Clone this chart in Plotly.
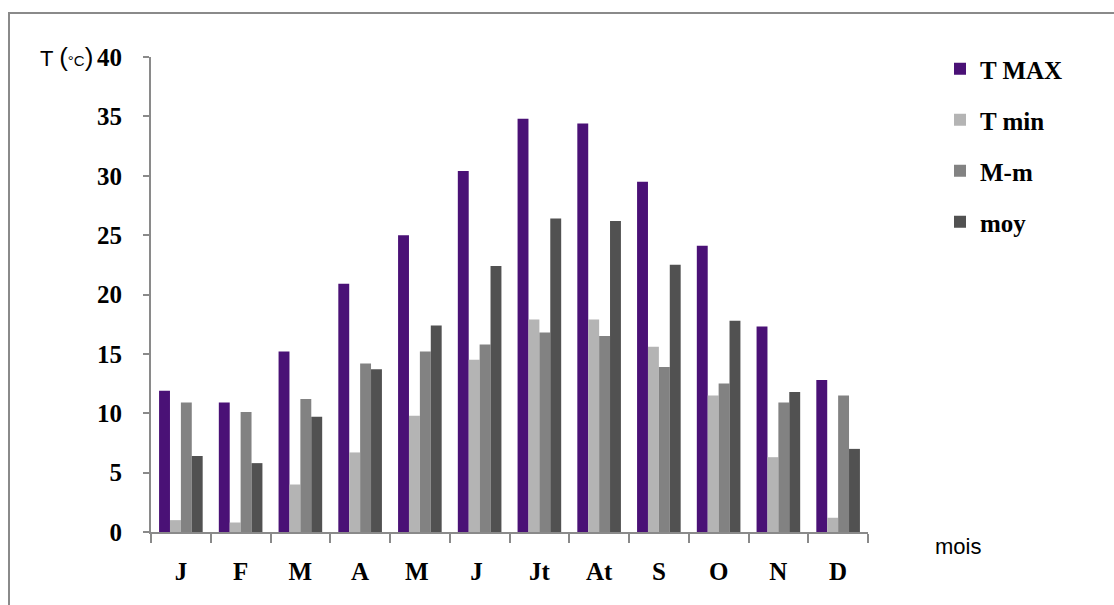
import plotly.graph_objects as go

# Monthly temperatures (°C)
months = ["J", "F", "M", "A", "M ", "J ", "Jt", "At", "S", "O", "N", "D"]
t_max = [11.9, 10.9, 15.2, 20.9, 25.0, 30.4, 34.8, 34.4, 29.5, 24.1, 17.3, 12.8]
t_min = [1.0, 0.8, 4.0, 6.7, 9.8, 14.5, 17.9, 17.9, 15.6, 11.5, 6.3, 1.2]
m_minus_m = [10.9, 10.1, 11.2, 14.2, 15.2, 15.8, 16.8, 16.5, 13.9, 12.5, 10.9, 11.5]
moy = [6.4, 5.8, 9.7, 13.7, 17.4, 22.4, 26.4, 26.2, 22.5, 17.8, 11.8, 7.0]

series = [
    ("T MAX", t_max, "#4a1176"),
    ("T min", t_min, "#b4b4b4"),
    ("M-m", m_minus_m, "#828282"),
    ("moy", moy, "#515151"),
]

SERIF = "Liberation Serif"
SANS = "Liberation Sans"
GREY = "#8a8a8a"

fig = go.Figure()
for i, (name, vals, col) in enumerate(series):
    fig.add_trace(go.Bar(
        x=months, y=vals, name=name, legendgroup=f"g{i}",
        marker=dict(color=col, line=dict(width=0)),
    ))

W, H = 1114, 605
L, R, T, B = 151, 246, 57, 73
pw, ph = W - L - R, H - T - B


def px(x):
    return (x - L) / pw


def py(y):
    return (H - B - y) / ph


fig.update_layout(
    width=W, height=H,
    margin=dict(l=L, r=R, t=T, b=B),
    paper_bgcolor="white", plot_bgcolor="white",
    barmode="group", bargap=0.27, bargroupgap=0,
    showlegend=True,
    legend=dict(
        x=px(940), y=py(46), xanchor="left", yanchor="top",
        font=dict(family=SERIF, size=25, color="black", weight="bold"),
        tracegroupgap=15.5, bgcolor="rgba(0,0,0,0)",
    ),
    xaxis=dict(
        showline=True, linecolor=GREY, linewidth=2,
        ticks="outside", tickson="boundaries", ticklen=9, tickwidth=2, tickcolor=GREY,
        tickfont=dict(family=SERIF, size=25, color="black", weight="bold"),
        ticklabelstandoff=16, showgrid=False,
    ),
    yaxis=dict(
        range=[0, 40], dtick=5, showline=True, linecolor=GREY, linewidth=2,
        ticks="outside", ticklen=6, tickwidth=2, tickcolor=GREY,
        tickfont=dict(family=SERIF, size=25, color="black", weight="bold"),
        ticklabelstandoff=16, showgrid=False, zeroline=False,
    ),
    shapes=[dict(
        type="rect", xref="paper", yref="paper",
        x0=px(9), x1=px(1130), y0=py(620), y1=py(13),
        line=dict(color=GREY, width=2), fillcolor="rgba(0,0,0,0)", layer="below",
    )],
    annotations=[
        dict(xref="paper", yref="paper", x=px(38), y=py(57), xanchor="left", yanchor="middle",
             showarrow=False,
             text="T <span style='font-size:26px'>(</span><span style='font-size:15px'>°C</span><span style='font-size:26px'>)</span>",
             font=dict(family=SANS, size=22, color="black")),
        dict(xref="paper", yref="paper", x=px(958), y=py(546), xanchor="center", yanchor="middle",
             showarrow=False, text="mois",
             font=dict(family=SANS, size=22, color="black")),
    ],
)

fig.write_html("out.html")
